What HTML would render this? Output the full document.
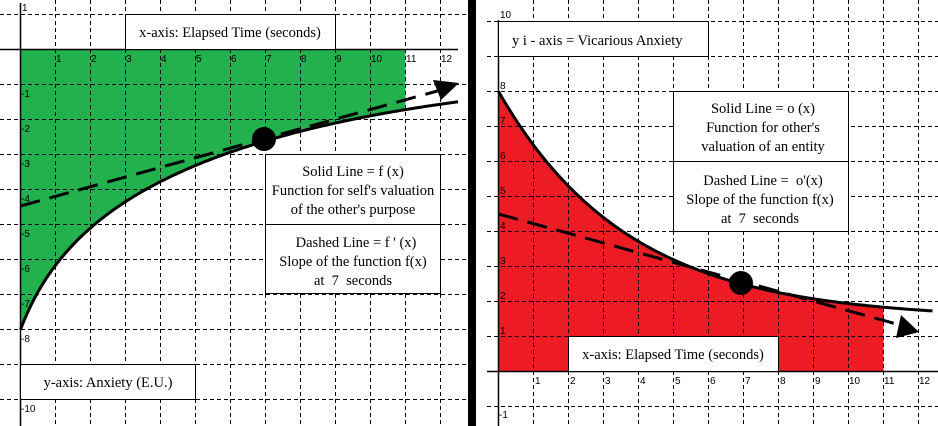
<!DOCTYPE html>
<html><head><meta charset="utf-8"><style>
html,body{margin:0;padding:0;background:#fff;}
svg{display:block;}
.t{font-family:"Liberation Serif",serif;font-size:14.5px;fill:#000;}
.k{font-family:"Liberation Sans",sans-serif;font-size:10px;fill:#000;}
</style></head><body>
<svg id="s" width="938" height="426" viewBox="0 0 938 426" xmlns="http://www.w3.org/2000/svg">
<rect width="938" height="426" fill="#fff"/>
<g id="fills"></g>
<g id="grid" stroke="#000" stroke-width="1" stroke-dasharray="4,3" fill="none"></g>
<line x1="20.5" y1="3" x2="20.5" y2="426" stroke="#000" stroke-width="1.5"/>
<line x1="0" y1="49.5" x2="458" y2="49.5" stroke="#000" stroke-width="1.5"/>
<line x1="498.5" y1="20" x2="498.5" y2="426" stroke="#000" stroke-width="1.5"/>
<line x1="487" y1="371.5" x2="938" y2="371.5" stroke="#000" stroke-width="1.5"/>
<rect x="468" y="0" width="8" height="426" fill="#000"/>
<rect x="125.5" y="14.5" width="210" height="35" fill="#fff" stroke="#000"/>
<text class="t" x="230" y="37" text-anchor="middle">x-axis: Elapsed Time (seconds)</text>
<rect x="20.5" y="364.5" width="175" height="35" fill="#fff" stroke="#000"/>
<text class="t" x="108" y="387" text-anchor="middle">y-axis: Anxiety (E.U.)</text>
<rect x="265.5" y="154.5" width="175" height="70" fill="#fff" stroke="#000"/>
<rect x="265.5" y="224.5" width="175" height="69" fill="#fff" stroke="#000"/>
<text class="t" text-anchor="middle"><tspan x="353" y="176">Solid Line = f (x)</tspan><tspan x="353" y="195">Function for self's valuation</tspan><tspan x="353" y="214">of the other's purpose</tspan></text>
<text class="t" text-anchor="middle"><tspan x="356" y="247">Dashed Line = f ' (x)</tspan><tspan x="353" y="266">Slope of the function f(x)</tspan><tspan x="353" y="285">at &#160;7 &#160;seconds</tspan></text>
<rect x="498.5" y="21.5" width="210" height="35" fill="#fff" stroke="#000"/>
<text class="t" x="512" y="45">y i - axis = Vicarious Anxiety</text>
<rect x="568.5" y="336.5" width="210" height="35" fill="#fff" stroke="#000"/>
<text class="t" x="673" y="359" text-anchor="middle">x-axis: Elapsed Time (seconds)</text>
<rect x="673.5" y="91.5" width="175" height="70" fill="#fff" stroke="#000"/>
<rect x="673.5" y="161.5" width="175" height="70" fill="#fff" stroke="#000"/>
<text class="t" text-anchor="middle"><tspan x="763" y="113">Solid Line = o (x)</tspan><tspan x="763" y="132">Function for other's</tspan><tspan x="763" y="151">valuation of an entity</tspan></text>
<text class="t" text-anchor="middle"><tspan x="763" y="185">Dashed Line = &#160;o'(x)</tspan><tspan x="760" y="204">Slope of the function f(x)</tspan><tspan x="760" y="223">at &#160;7 &#160;seconds</tspan></text>
<g class="k">
<text x="22" y="11">1</text>
<text x="56" y="62">1</text><text x="91" y="62">2</text><text x="126" y="62">3</text><text x="161" y="62">4</text><text x="196" y="62">5</text><text x="231" y="62">6</text><text x="266" y="62">7</text><text x="301" y="62">8</text><text x="336" y="62">9</text><text x="371" y="62">10</text><text x="406" y="62">11</text><text x="441" y="62">12</text>
<text x="21" y="97">-1</text><text x="21" y="132">-2</text><text x="21" y="167">-3</text><text x="21" y="202">-4</text><text x="21" y="237">-5</text><text x="21" y="272">-6</text><text x="21" y="307">-7</text><text x="21" y="342">-8</text><text x="21" y="412">-10</text>
<text x="500" y="18">10</text><text x="500" y="89">8</text><text x="500" y="124">7</text><text x="500" y="159">6</text><text x="500" y="194">5</text><text x="500" y="229">4</text><text x="500" y="264">3</text><text x="500" y="299">2</text><text x="500" y="334">1</text><text x="499" y="418">-1</text>
<text x="535" y="384">1</text><text x="570" y="384">2</text><text x="605" y="384">3</text><text x="640" y="384">4</text><text x="675" y="384">5</text><text x="710" y="384">6</text><text x="745" y="384">7</text><text x="780" y="384">8</text><text x="815" y="384">9</text><text x="849" y="384">10</text><text x="884" y="384">11</text><text x="919" y="384">12</text>
</g>
<g id="curves"></g>
</svg>
<script>
var NS="http://www.w3.org/2000/svg";
function el(p,tag,a){var e=document.createElementNS(NS,tag);for(var k in a)e.setAttribute(k,a[k]);document.getElementById(p).appendChild(e);return e;}
var i;
for(i=1;i<=12;i++){var x=20.5+35*i;el("grid","line",{x1:x,y1:0,x2:x,y2:426});}
[14.5,84.5,119.5,154.5,189.5,224.5,259.5,294.5,329.5,364.5,399.5].forEach(function(y){el("grid","line",{x1:0,y1:y,x2:466,y2:y});});
for(i=1;i<=12;i++){var x=498.5+35*i;el("grid","line",{x1:x,y1:0,x2:x,y2:426});}
for(i=-1;i<=10;i++){if(i==0)continue;var y=371.5-35*i;el("grid","line",{x1:487,y1:y,x2:938,y2:y});}
function f(x){return -8+2.65*Math.log(1+x)-0.0025*x*x;}
function LX(x){return 20.5+35*x;} function LY(v){return 49.5-35*v;}
var pts=[],g=[];
for(var x=0;x<=12.55;x+=0.05){pts.push(LX(x).toFixed(1)+","+LY(f(x)).toFixed(1));}
g.push("20.5,49.5","405.5,49.5");
for(var x=11;x>=0;x-=0.05){g.push(LX(x).toFixed(1)+","+LY(f(x)).toFixed(1));}
g.push(LX(0)+","+LY(f(0)));
el("fills","polygon",{points:g.join(" "),fill:"#22b14c"});
el("curves","polyline",{points:pts.join(" "),fill:"none",stroke:"#000","stroke-width":3});
el("curves","line",{x1:20.5,y1:206,x2:441,y2:90,stroke:"#000","stroke-width":3,"stroke-dasharray":"20,10"});
el("curves","polygon",{points:"459,83 433,80 441,100",fill:"#000"});
el("curves","ellipse",{cx:264,cy:139,rx:12,ry:12,fill:"#000"});
function o(x){return 1.5+6.5*Math.exp(-0.269*x);}
function RX(x){return 498.5+35*x;} function RY(v){return 371.5-35*v;}
pts=[];g=["498.5,371.5"];
for(var x=0;x<=12.45;x+=0.05){pts.push(RX(x).toFixed(1)+","+RY(o(x)).toFixed(1));}
for(var x=0;x<=11.001;x+=0.05){g.push(RX(x).toFixed(1)+","+RY(o(x)).toFixed(1));}
g.push("883.5,"+RY(o(11)).toFixed(1),"883.5,371.5");
el("fills","polygon",{points:g.join(" "),fill:"#ed1c24"});
el("curves","polyline",{points:pts.join(" "),fill:"none",stroke:"#000","stroke-width":3});
el("curves","line",{x1:498.5,y1:214,x2:900,y2:325,stroke:"#000","stroke-width":3,"stroke-dasharray":"20,10"});
el("curves","polygon",{points:"919,332 901,315 896,338",fill:"#000"});
el("curves","ellipse",{cx:741,cy:283,rx:12,ry:12,fill:"#000"});
</script>
</body></html>
